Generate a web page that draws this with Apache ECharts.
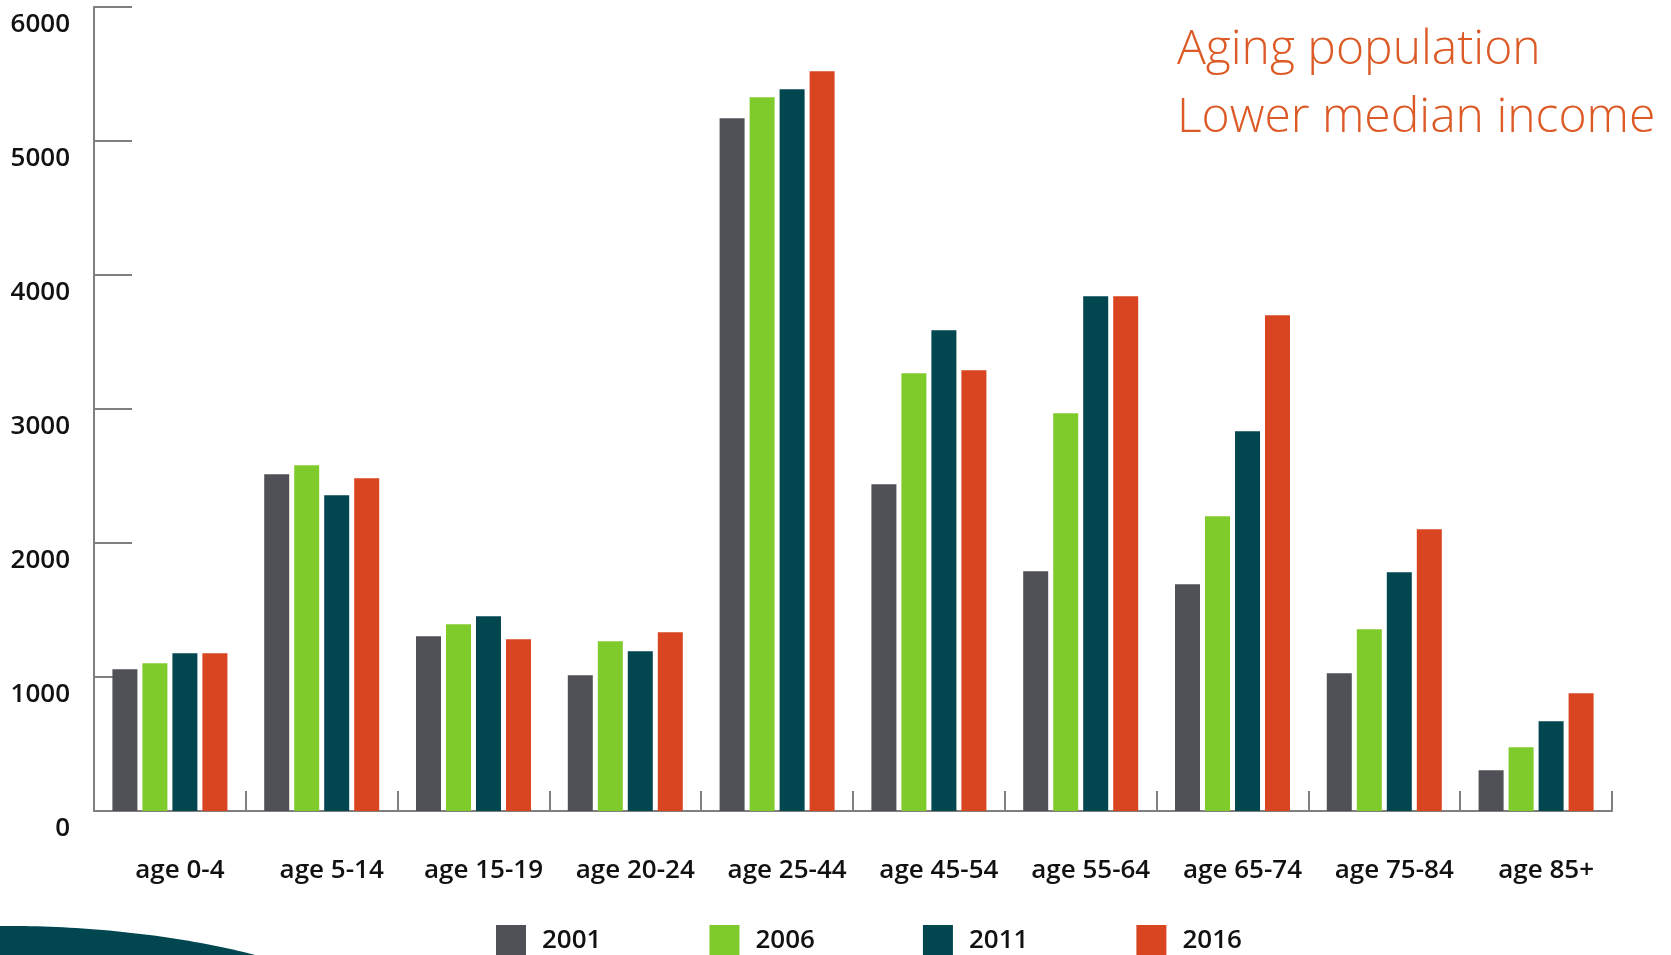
<!DOCTYPE html>
<html>
<head>
<meta charset="utf-8">
<title>Population by age group</title>
<script src="https://cdn.jsdelivr.net/npm/echarts@6/dist/echarts.min.js"></script>
<style>
  html, body { margin: 0; padding: 0; background: #ffffff; }
  #chart { width: 1671px; height: 955px; }
</style>
</head>
<body>
<div id="chart"></div>
<script>
// Age groups along the x axis
const categories = ['age 0-4', 'age 5-14', 'age 15-19', 'age 20-24', 'age 25-44',
                    'age 45-54', 'age 55-64', 'age 65-74', 'age 75-84', 'age 85+'];

// Census years shown in the legend
const years = ['2001', '2006', '2011', '2016'];

// Population per age group, one array per census year
const pop2001 = [1057, 2513, 1304, 1013, 5169, 2438, 1789, 1692, 1028, 304];
const pop2006 = [1102, 2580, 1393, 1267, 5326, 3266, 2968, 2199, 1356, 475];
const pop2011 = [1177, 2356, 1453, 1192, 5386, 3587, 3841, 2834, 1782, 670];
const pop2016 = [1177, 2483, 1281, 1334, 5520, 3289, 3841, 3700, 2103, 878];

// Value axis range and step
const yMin = 0;
const yMax = 6000;
const yStep = 1000;

// Annotation lines in the top-right corner
const noteLines = ['Aging population', 'Lower median income'];

const colors = ['#505156', '#80cb2c', '#02474f', '#d84520'];
const seriesData = [pop2001, pop2006, pop2011, pop2016];

const chart = echarts.init(document.getElementById('chart'), null, { renderer: 'canvas' });

const FONT = '"Open Sans", "Noto Sans", "DejaVu Sans", sans-serif';

// Outline of the decorative swoosh: a cubic curve closed along the bottom edge
function swooshPoints() {
  const p0 = [0, 926], p1 = [80, 925], p2 = [180, 935], p3 = [255, 955];
  const pts = [];
  for (let k = 0; k <= 40; k++) {
    const t = k / 40, u = 1 - t;
    const a = u * u * u, b = 3 * u * u * t, c = 3 * u * t * t, d = t * t * t;
    pts.push([a * p0[0] + b * p1[0] + c * p2[0] + d * p3[0],
              a * p0[1] + b * p1[1] + c * p2[1] + d * p3[1]]);
  }
  pts.push([0, 955]);
  return pts;
}

const option = {
  animation: false,
  backgroundColor: '#ffffff',
  color: colors,
  grid: { left: 94, right: 59, top: 7, bottom: 144, containLabel: false },
  legend: {
    data: years,
    left: 496,
    top: 925,
    padding: 0,
    itemWidth: 30,
    itemHeight: 32,
    itemGap: 108,
    icon: 'rect',
    textStyle: {
      fontFamily: FONT,
      fontSize: 26,
      fontWeight: 600,
      color: '#111111',
      padding: [2, 0, 0, 11]
    }
  },
  xAxis: {
    type: 'category',
    data: categories,
    boundaryGap: true,
    axisLine: { show: true, lineStyle: { color: '#7f7f7f', width: 2 } },
    axisTick: {
      show: true,
      inside: true,
      length: 20,
      interval: 0,
      alignWithLabel: false,
      lineStyle: { color: '#7f7f7f', width: 2 }
    },
    axisLabel: {
      interval: 0,
      margin: 47,
      fontFamily: FONT,
      fontSize: 26,
      fontWeight: 600,
      color: '#111111',
      padding: [0, 0, 0, 20]
    },
    splitLine: { show: false }
  },
  yAxis: {
    type: 'value',
    min: yMin,
    max: yMax,
    interval: yStep,
    axisLine: { show: true, lineStyle: { color: '#7f7f7f', width: 2 } },
    axisTick: {
      show: true,
      inside: true,
      length: 38,
      lineStyle: { color: '#7f7f7f', width: 2 }
    },
    axisLabel: {
      margin: 24,
      fontFamily: FONT,
      fontSize: 26,
      fontWeight: 600,
      color: '#111111',
      verticalAlign: 'top',
      lineHeight: 36,
      formatter: (v) => String(v)
    },
    splitLine: { show: false }
  },
  series: years.map((y, i) => ({
    name: y,
    type: 'bar',
    data: seriesData[i],
    barWidth: 25,
    barGap: '20%',
    itemStyle: { color: colors[i] }
  })),
  graphic: [
    {
      // Decorative teal swoosh in the bottom-left corner
      type: 'polygon',
      silent: true,
      z: 0,
      shape: { points: swooshPoints() },
      style: { fill: '#02474f' }
    },
    {
      type: 'text',
      left: 1177,
      top: 26,
      style: {
        text: noteLines[0],
        fontFamily: FONT,
        fontSize: 48,
        fontWeight: 300,
        fill: '#dc5a26'
      }
    },
    {
      type: 'text',
      left: 1177,
      top: 94,
      style: {
        text: noteLines[1],
        fontFamily: FONT,
        fontSize: 48,
        fontWeight: 300,
        fill: '#dc5a26'
      }
    }
  ]
};

chart.setOption(option);
</script>
</body>
</html>
